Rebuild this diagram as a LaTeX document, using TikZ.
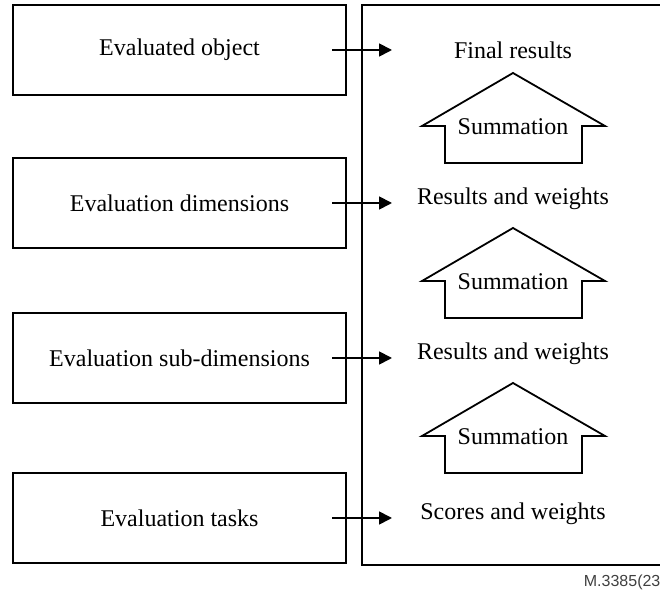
\documentclass[tikz,border=0pt]{standalone}
\usepackage{fontspec}
\setmainfont{Liberation Serif}
\setsansfont{Liberation Sans}
\usetikzlibrary{arrows.meta}

\begin{document}
\begin{tikzpicture}[x=0.5pt,y=-0.5pt,line width=0.9pt,>={Triangle[length=6.5pt,width=6.5pt]},
    level node/.style={rectangle,draw,minimum width=166.5pt,minimum height=45pt,font=\fontsize{12}{14}\selectfont},
    result node/.style={font=\fontsize{12}{14}\selectfont},
    sum node/.style={font=\fontsize{12}{14}\selectfont,inner sep=1pt}]
  \useasboundingbox (0,0) rectangle (660,593);
  % left column
  \node[level node] (obj) at (179.5,50) {Evaluated object};
  \node[level node] (dim) at (179.5,203) {Evaluation dimensions};
  \node[level node] (sub) at (179.5,358) {Evaluation sub-dimensions};
  \node[level node] (task) at (179.5,518) {Evaluation tasks};
  % right column
  \draw (660,5) -- (362,5) -- (362,565) -- (660,565);
  \node[result node] (final) at (513,50) {Final results};
  \node[result node] (dimres) at (513,199) {Results and weights};
  \node[result node] (subres) at (513,354) {Results and weights};
  \node[result node] (taskres) at (513,514) {Scores and weights};
  % arrow ends
  \coordinate (o1) at (332,50);  \coordinate (i1) at (392,50);
  \coordinate (o2) at (332,203); \coordinate (i2) at (392,203);
  \coordinate (o3) at (332,358); \coordinate (i3) at (392,358);
  \coordinate (o4) at (332,518); \coordinate (i4) at (392,518);
  \path[->] (o1) edge (i1);
  \path[->] (o2) edge (i2);
  \path[->] (o3) edge (i3);
  \path[->] (o4) edge (i4);
  % summation arrows
  \draw (445,163) -- (445,126) -- (422,126) -- (513,73) -- (605,126) -- (582,126) -- (582,163) -- cycle;
  \node[sum node] (sum1) at (513,127) {Summation};
  \draw (445,318) -- (445,281) -- (422,281) -- (513,228) -- (605,281) -- (582,281) -- (582,318) -- cycle;
  \node[sum node] (sum2) at (513,282) {Summation};
  \draw (445,473) -- (445,436) -- (422,436) -- (513,383) -- (605,436) -- (582,436) -- (582,473) -- cycle;
  \node[sum node] (sum3) at (513,437) {Summation};
  \node[anchor=west,font=\sffamily\fontsize{8}{9}\selectfont,text=black!75,inner sep=0pt] (ref) at (583,582) {M.3385(23};
\end{tikzpicture}
\end{document}
